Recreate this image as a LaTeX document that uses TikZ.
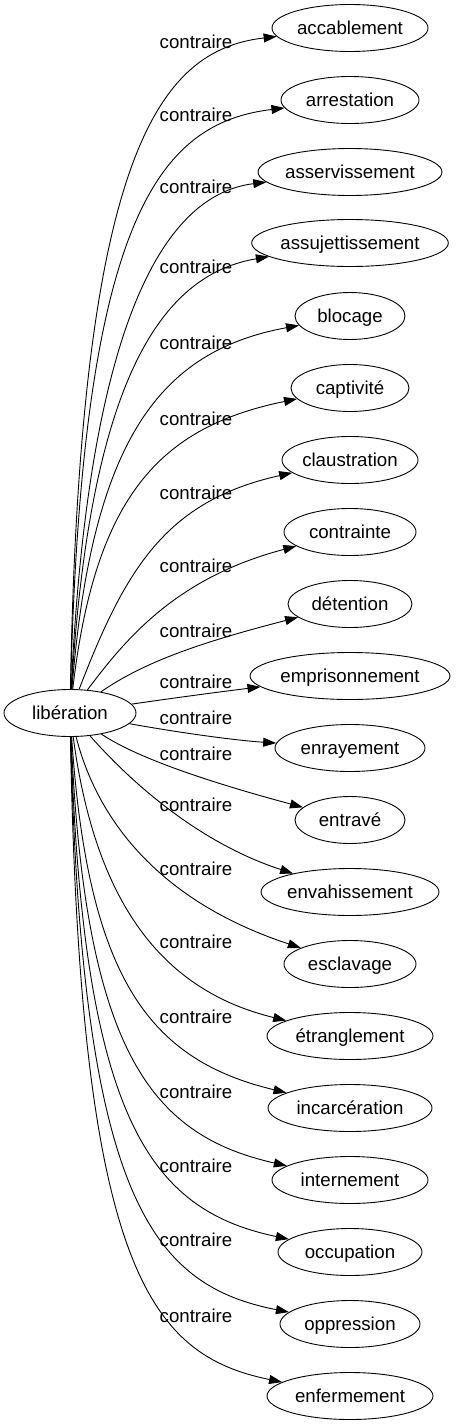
\documentclass[tikz,border=0pt]{standalone}
\usepackage{fontspec}
\setmainfont{Liberation Sans}
\usetikzlibrary{arrows.meta, shapes.geometric}

\begin{document}
\begin{tikzpicture}[x=1pt, y=-1pt,
  word/.style = {draw, ellipse, inner sep=0pt, minimum height=47pt, line width=0.9pt,
                 text height=13pt, text depth=1pt, font=\fontsize{18.67}{22}\selectfont},
  rel/.style = {inner sep=0pt, text height=13pt, text depth=2pt, font=\fontsize{18.67}{22}\selectfont},
  edge/.style = {line width=0.9pt, -{Triangle[length=13pt, width=9pt]}}]
\useasboundingbox (0,0) rectangle (456,1427);
\node[word, minimum width=132pt] (lib) at (70,713) {libération};
% targets: name/text/y/width/label y/first control/second control
\foreach \nm/\txt/\ty/\w/\ly/\ax/\ay/\bx/\by in {
  acc/accablement/28/156/43/80/150/160/50,
  arr/arrestation/100/138/116/82/215/160/123,
  asv/asservissement/172/184/188/88/333/160/195,
  asj/assujettissement/243/196/268/90/382/160/275,
  blo/blocage/316/110/344/92/439/160/351,
  cap/captivité/388/118/420/95/496/160/427,
  cla/claustration/460/136/494/125/570/165/501,
  con/contrainte/532/132/567/125/640/175/578,
  det/détention/604/124/632/140/665/190/645,
  emp/emprisonnement/676/200/683/160/700/210/693,
  enr/enrayement/748/150/719/170/731/230/740,
  ent/entravé/820/110/755/140/760/220/785,
  env/envahissement/892/178/806/120/770/190/840,
  esc/esclavage/964/132/870/100/830/170/905,
  etr/étranglement/1036/166/943/95/900/160/990,
  inc/incarcération/1108/164/1018/88/980/150/1060,
  int/internement/1180/156/1093/85/1050/150/1135,
  occ/occupation/1252/144/1167/83/1120/150/1210,
  opp/oppression/1324/140/1241/82/1195/150/1285,
  enf/enfermement/1396/166/1317/80/1270/150/1355}{
  \node[word, minimum width=\w pt] (\nm) at (350,\ty) {\txt};
  \node[rel] (c-\nm) at (196,\ly) {contraire};
  \draw[edge] (lib) .. controls (\ax,\ay) and (\bx,\by) .. (\nm);
}
\end{tikzpicture}
\end{document}
